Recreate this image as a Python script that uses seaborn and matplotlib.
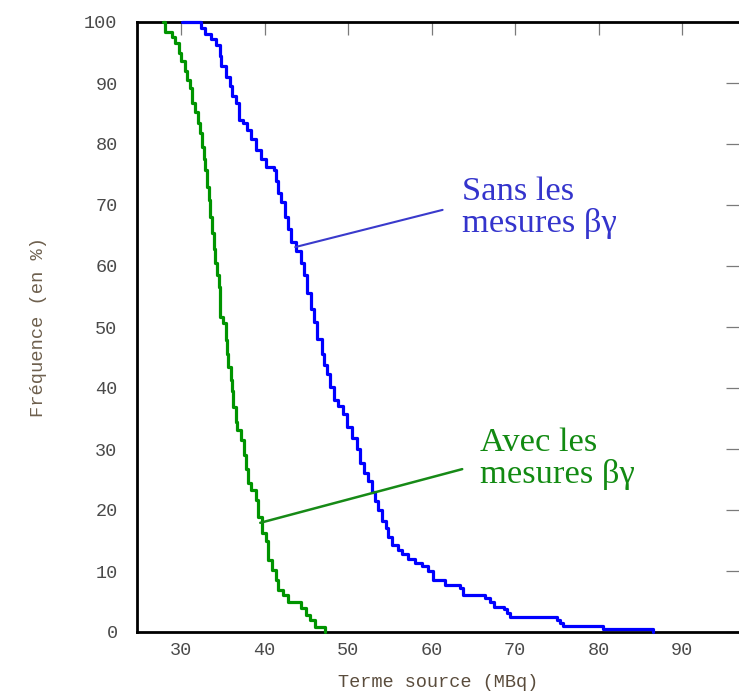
import pandas as pd
import seaborn as sns
import matplotlib.pyplot as plt

# survival-type curves (step drops)
sans_x = [30.1, 32.4, 32.9, 33.6, 34.2, 34.6, 34.8, 35.3, 35.8, 36.1, 36.6, 36.9,
          37.4, 37.9, 38.3, 38.9, 39.5, 40.1, 41.1, 41.4, 41.6, 42.0, 42.4, 42.8,
          43.2, 43.8, 44.3, 44.7, 45.1, 45.5, 45.9, 46.3, 46.8, 47.1, 47.5, 47.8,
          48.3, 48.8, 49.4, 49.9, 50.4, 51.0, 51.4, 51.9, 52.4, 52.8, 53.2, 53.6,
          54.1, 54.5, 54.8, 55.3, 55.9, 56.4, 57.2, 58.0, 58.8, 59.6, 60.2, 61.6,
          63.4, 63.8, 66.4, 67.0, 67.4, 68.6, 69.0, 69.4, 75.0, 75.4, 75.7, 80.5,
          86.5]
sans_y = [100.0, 99.0, 98.0, 97.2, 96.2, 94.5, 92.8, 91.0, 89.5, 87.8, 86.8, 84.0,
          83.5, 82.3, 80.8, 79.0, 77.5, 76.2, 75.8, 74.0, 72.0, 70.5, 68.0, 66.0,
          64.0, 62.5, 60.5, 58.5, 55.6, 53.0, 50.8, 48.0, 45.5, 43.8, 42.3, 40.2,
          38.0, 37.0, 35.8, 33.6, 31.8, 30.0, 27.7, 26.0, 24.8, 23.0, 21.5, 20.0,
          18.2, 17.0, 15.6, 14.2, 13.5, 12.8, 12.0, 11.3, 10.8, 10.0, 8.5, 7.7,
          7.2, 6.1, 5.6, 4.9, 4.1, 3.7, 3.1, 2.5, 2.0, 1.5, 1.0, 0.5,
          0.0]

avec_x = [27.8, 28.1, 28.9, 29.3, 29.7, 30.0, 30.4, 30.7, 31.1, 31.3, 31.7, 32.0,
          32.2, 32.5, 32.7, 32.9, 33.1, 33.3, 33.5, 33.7, 33.9, 34.1, 34.3, 34.5,
          34.6, 34.7, 35.0, 35.3, 35.5, 35.6, 35.9, 36.1, 36.2, 36.5, 36.7, 37.2,
          37.5, 37.7, 38.0, 38.3, 38.9, 39.2, 39.7, 40.1, 40.4, 40.9, 41.3, 41.6,
          42.2, 42.8, 44.3, 44.9, 45.4, 46.0, 47.2]
avec_y = [100.0, 98.4, 97.5, 96.6, 95.0, 93.6, 92.0, 90.5, 89.2, 86.8, 85.2, 83.4,
          81.8, 79.5, 77.5, 75.7, 73.0, 70.8, 68.0, 65.4, 62.8, 60.5, 58.5, 56.6,
          54.0, 51.6, 50.6, 47.9, 45.5, 43.4, 41.3, 39.5, 36.9, 34.5, 33.1, 31.5,
          29.0, 26.8, 24.5, 23.2, 21.6, 18.9, 16.2, 15.0, 11.8, 10.2, 8.5, 6.9,
          6.1, 4.9, 3.9, 2.8, 2.0, 0.8, 0.0]

x_ticks = [30, 40, 50, 60, 70, 80, 90]
y_ticks = [0, 10, 20, 30, 40, 50, 60, 70, 80, 90, 100]

sans_label = "Sans les\nmesures βγ"
avec_label = "Avec les\nmesures βγ"

df_sans = pd.DataFrame({"x": sans_x, "y": sans_y})
df_avec = pd.DataFrame({"x": avec_x, "y": avec_y})

sns.set_style("white")
plt.rcParams['font.family'] = ['Liberation Mono', 'DejaVu Sans Mono']

fig = plt.figure(figsize=(7.39, 6.93), dpi=100)
ax = fig.add_axes([137 / 739, 61 / 693, 1 - 137 / 739, 610 / 693])

sns.lineplot(data=df_sans, x="x", y="y", ax=ax, color="#0000ff", lw=2.3,
             drawstyle="steps-post", estimator=None, sort=False,
             clip_on=False, zorder=4)
sns.lineplot(data=df_avec, x="x", y="y", ax=ax, color="#009400", lw=2.3,
             drawstyle="steps-post", estimator=None, sort=False,
             clip_on=False, zorder=4)

# pointer lines + labels
ax.plot([43.65, 61.3], [63.1, 69.2], color="#3a3acc", lw=1.5, zorder=5)
ax.plot([39.46, 63.65], [17.9, 26.7], color="#178a17", lw=1.8, zorder=5)
ax.text(63.65, 74.7, sans_label, color="#3434cc", fontsize=24.8, va="top",
        ha="left", family=["Liberation Serif", "DejaVu Serif"], linespacing=1.05)
ax.text(65.8, 33.5, avec_label, color="#128a12", fontsize=24.8, va="top",
        ha="left", family=["Liberation Serif", "DejaVu Serif"], linespacing=1.05)

ax.set_xlim(24.7, 96.8)
ax.set_ylim(0, 100)
ax.set_xticks(x_ticks)
ax.set_yticks(y_ticks)
ax.tick_params(direction="in", length=9.5, width=0.9, color="#7a7a7a",
               top=True, right=True, labelsize=13.3, labelcolor="#4a4a4a")
ax.tick_params(axis="y", pad=14)
ax.tick_params(axis="x", pad=7)

for side in ["left", "bottom", "top"]:
    ax.spines[side].set_color("black")
    ax.spines[side].set_linewidth(2.0)
ax.spines["right"].set_visible(False)

ax.set_xlabel("Terme source (MBq)", fontsize=13.3, color="#5a4c3c", labelpad=11)
ax.set_ylabel("Fréquence (en %)", fontsize=13.5, color="#6e604e", labelpad=27)

fig.savefig("out.png", dpi=100)
